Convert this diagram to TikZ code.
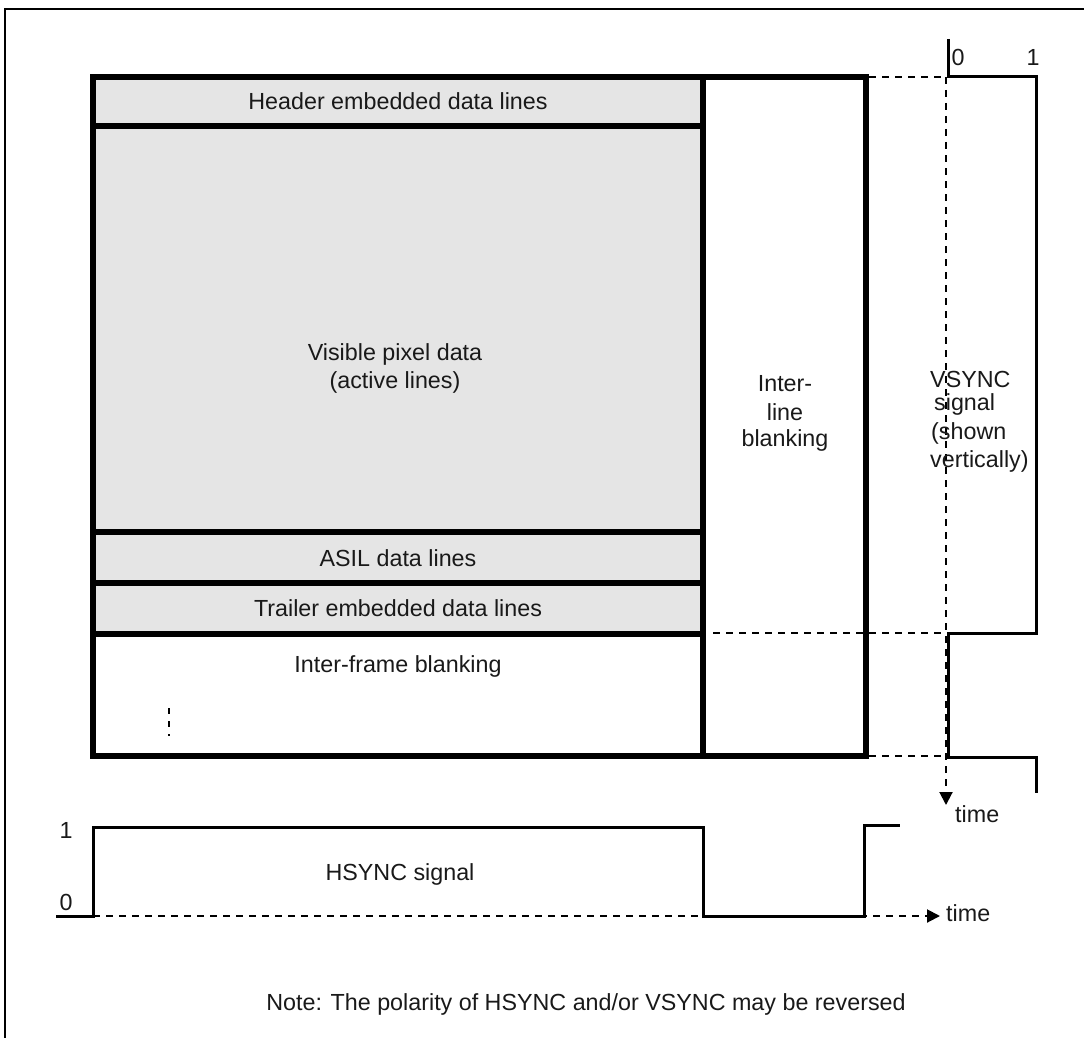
\documentclass[tikz,border=0pt]{standalone}
\usepackage{fontspec}
\setmainfont{Liberation Sans}
\usetikzlibrary{arrows.meta}
\begin{document}
\begin{tikzpicture}[x=1pt,y=-1pt,
  lbl/.style={inner sep=0pt,font=\fontsize{23.3}{28}\selectfont,text=black!90},
  thickbox/.style={line width=6pt,line join=miter},
  sig/.style={line width=3pt},
  dsh/.style={line width=2pt,dash pattern=on 7pt off 6pt},
  tip/.style={-{Triangle[length=13pt,width=13pt]}},
  framel/.style={line width=2pt}]
\useasboundingbox (0,0) rectangle (1084,1038);
% outer frame
\draw[framel] (5,1038) -- (5,9) -- (1084,9);
% fills
\fill[black!10] (93,77) rectangle (703,634);
% thick frame
\draw[thickbox] (93,77) rectangle (866,756);
\draw[thickbox] (703,77) -- (703,756);
\draw[thickbox] (93,126) -- (703,126);
\draw[thickbox] (93,532) -- (703,532);
\draw[thickbox] (93,583) -- (703,583);
\draw[thickbox] (93,634) -- (703,634);
\draw[line width=2pt,dash pattern=on 6pt off 7pt] (169,708) -- (169,736);
% coordinates
\coordinate (vt) at (946,77);
\coordinate (vb) at (946,805);
\coordinate (ht) at (93,916);
\coordinate (he) at (940,916);
% dashed guides
\draw[dsh] (869,77) -- (vt);
\draw[dsh] (713,633) -- (946,633);
\draw[dsh] (869,756) -- (946,756);
\draw[dsh,tip] (vt) -- (vb);
\draw[dsh,tip] (ht) -- (he);
% VSYNC signal
\draw[sig] (948,39) -- (948,77) -- (1036,77) -- (1036,633) -- (948,633) -- (948,757) -- (1036,757) -- (1036,793);
% HSYNC signal
\draw[sig] (56,916) -- (93,916) -- (93,827) -- (703,827) -- (703,916) -- (864,916) -- (864,825) -- (900,825);
% labels
\node[lbl] (hdr) at (398,101) {Header embedded data lines};
\node[lbl] (vis1) at (395,354) {Visible pixel data};
\node[lbl] (vis2) at (395,382) {(active lines)};
\node[lbl] (asil) at (398,558) {ASIL data lines};
\node[lbl] (trl) at (398,608) {Trailer embedded data lines};
\node[lbl] (ifb) at (398,666) {Inter-frame blanking};
\node[lbl] (ilb1) at (785,384) {Inter-};
\node[lbl] (ilb2) at (785,412) {line};
\node[lbl] (ilb3) at (785,440) {blanking};
\node[lbl,anchor=west] (vs1) at (930,379) {VSYNC};
\node[lbl,anchor=west] (vs2) at (934,404) {signal};
\node[lbl,anchor=west] (vs3) at (931,433) {(shown};
\node[lbl,anchor=west] (vs4) at (930,461) {vertically)};
\node[lbl] (v0) at (958,57) {0};
\node[lbl] (v1) at (1033,57) {1};
\node[lbl] (h1) at (66,830) {1};
\node[lbl] (h0) at (66,902) {0};
\node[lbl] (hs) at (400,874) {HSYNC signal};
\node[lbl,anchor=west] (tv) at (955,814) {time};
\node[lbl,anchor=west] (th) at (946,913) {time};
\node[lbl] (note) at (586,1004) {Note: The polarity of HSYNC and/or VSYNC may be reversed};
\end{tikzpicture}
\end{document}
